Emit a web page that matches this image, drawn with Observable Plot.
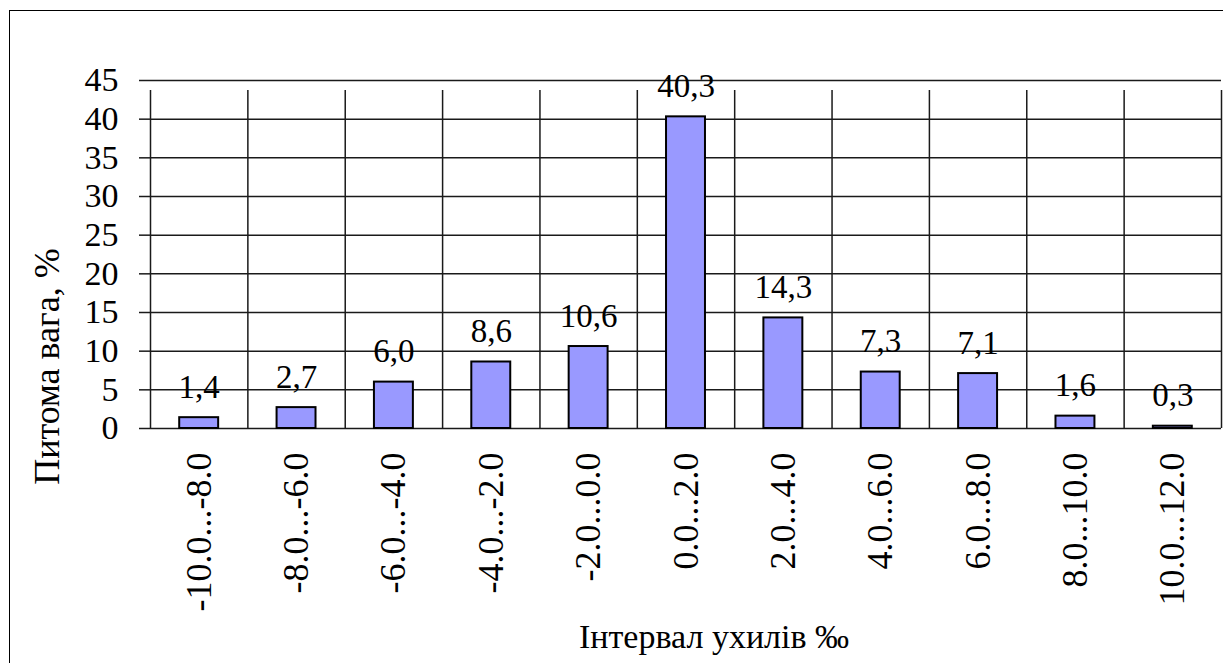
<!DOCTYPE html>
<html><head><meta charset="utf-8">
<script src="https://cdn.jsdelivr.net/npm/d3@7"></script>
<script src="https://cdn.jsdelivr.net/npm/@observablehq/plot@0.6"></script>
<style>
body{margin:0;background:#fff;overflow:hidden}
#chart{position:absolute;left:0;top:0}
#frame{position:absolute;left:9px;top:10px;width:1400px;height:800px;border:1.5px solid #000;box-sizing:border-box;pointer-events:none}
</style></head><body>
<div id="chart"></div><div id="frame"></div>
<script>
const categories = ["-10.0...-8.0","-8.0...-6.0","-6.0...-4.0","-4.0...-2.0","-2.0...0.0","0.0...2.0","2.0...4.0","4.0...6.0","6.0...8.0","8.0...10.0","10.0...12.0"];
const values = [1.4, 2.7, 6.0, 8.6, 10.6, 40.3, 14.3, 7.3, 7.1, 1.6, 0.3];
const valueLabels = ["1,4","2,7","6,0","8,6","10,6","40,3","14,3","7,3","7,1","1,6","0,3"];
const yTicks = [0, 5, 10, 15, 20, 25, 30, 35, 40, 45];
const xTitle = "Інтервал ухилів ‰";
const yTitle = "Питома вага, %";

const data = categories.map((c, i) => ({i, category: c, value: values[i], label: valueLabels[i]}));
const boundaries = d3.range(categories.length + 1);
const font = "Liberation Serif";
const gridColor = "#1a1a1a";

const plot = Plot.plot({
  width: 1223, height: 663,
  marginLeft: 150, marginRight: 2, marginTop: 80, marginBottom: 235,
  style: {fontSize: "33px", fontFamily: font, background: "transparent", color: "#000"},
  x: {domain: [0, categories.length], axis: null},
  y: {domain: [0, 45], axis: null},
  marks: [
    Plot.ruleY(yTicks, {stroke: gridColor, strokeWidth: 1.5}),
    Plot.ruleX(boundaries, {y1: 0, y2: 45, insetBottom: -10, stroke: gridColor, strokeWidth: 1.5}),
    Plot.axisY(yTicks, {tickSize: 11, tickPadding: 21, tickFormat: d => String(d), fontSize: 34, fontFamily: font, strokeWidth: 1.5, stroke: gridColor, label: null, fill: "#000"}),
    Plot.rect(data, {x1: d => d.i + 0.3, x2: d => d.i + 0.7, y1: 0, y2: "value", fill: "#9999ff", stroke: "#000", strokeWidth: 2}),
    Plot.text(data, {x: d => d.i + 0.5, y: "value", text: "label", lineAnchor: "bottom", dy: -20, fontSize: 33, fontFamily: font, fill: "#000"}),
    Plot.text(data, {x: d => d.i + 0.5, y: 0, text: "category", rotate: -90, textAnchor: "end", lineAnchor: "middle", dy: 24, fontSize: 36, fontFamily: font, fill: "#000"}),
    Plot.text([xTitle], {frameAnchor: "bottom", textAnchor: "middle", lineAnchor: "bottom", dx: 28, dy: 219, fontSize: 34, fontFamily: font, fill: "#000"}),
    Plot.text([yTitle], {frameAnchor: "left", textAnchor: "middle", rotate: -90, lineAnchor: "bottom", dx: -92, dy: 112, fontSize: 36, fontFamily: font, fill: "#000"})
  ]
});
document.getElementById("chart").appendChild(plot);
</script>
</body></html>
